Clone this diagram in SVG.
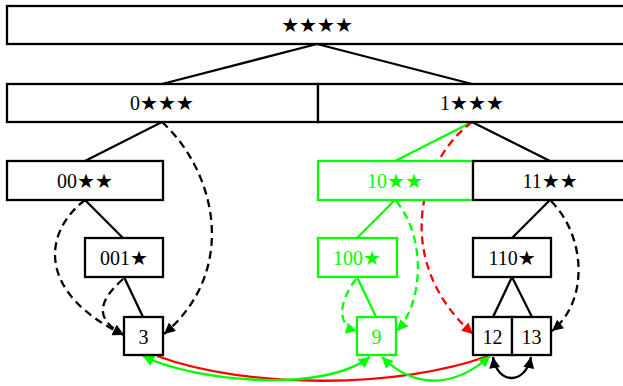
<svg xmlns="http://www.w3.org/2000/svg" width="623" height="386" viewBox="0 0 623 386">
<style>
.box{fill:#fff;stroke:#000;stroke-width:2.3}
.gbox{fill:#fff;stroke:#00ff00;stroke-width:2.3}
.t{font-family:"Liberation Serif","DejaVu Sans",serif;font-size:20px;text-anchor:middle;fill:#000}
.gt{fill:#00ff00}
.e{fill:none;stroke:#000;stroke-width:2.3}
.g{stroke:#00ff00}
.r{stroke:#ff0000}
.d{stroke-dasharray:8 5}
</style>
<defs>
<marker id="ak" viewBox="0 0 10 10" refX="10" refY="5" markerWidth="13" markerHeight="11" markerUnits="userSpaceOnUse" orient="auto-start-reverse"><path d="M0,0 L10,5 L0,10 z" fill="#000"/></marker>
<marker id="ag" viewBox="0 0 10 10" refX="10" refY="5" markerWidth="13" markerHeight="11" markerUnits="userSpaceOnUse" orient="auto-start-reverse"><path d="M0,0 L10,5 L0,10 z" fill="#00ff00"/></marker>
<marker id="ar" viewBox="0 0 10 10" refX="10" refY="5" markerWidth="13" markerHeight="11" markerUnits="userSpaceOnUse" orient="auto-start-reverse"><path d="M0,0 L10,5 L0,10 z" fill="#ff0000"/></marker>
</defs>
<g id="connectors">
<path class="e" d="M317,44 L162,84"/>
<path class="e" d="M317,44 L472,84"/>
<path class="e" d="M162,122 L85,161"/>
<path class="e g" d="M472,122 L395,161"/>
<path class="e" d="M472,122 L550,161"/>
<path class="e" d="M85,200 L123,238"/>
<path class="e g" d="M395,200 L357,238"/>
<path class="e" d="M550,200 L512,238"/>
<path class="e" d="M124,277 L143,317"/>
<path class="e g" d="M357,277 L376,317"/>
<path class="e" d="M512,277 L493,317"/>
<path class="e" d="M512,277 L532,317"/>
<path class="e d" d="M162,122 C215,170 240,270 164,334" marker-end="url(#ak)"/>
<path class="e d" d="M85,200 C40,235 40,295 124,335" marker-end="url(#ak)"/>
<path class="e d" d="M123,279 C100,300 92,318 124,335" marker-end="url(#ak)"/>
<path class="e g d" d="M356,279 C340,300 335,325 357,331" marker-end="url(#ag)"/>
<path class="e g d" d="M396,201 C425,235 425,300 397,331" marker-end="url(#ag)"/>
<path class="e r d" d="M472,122 C415,165 395,265 473,334" marker-end="url(#ar)"/>
<path class="e d" d="M551,201 C585,235 590,300 552,331" marker-end="url(#ak)"/>
<path class="e r" d="M157,356 C250,390 400,388 488,356"/>
<path class="e g" d="M143,356 C190,380 320,395 370,357" marker-start="url(#ag)" marker-end="url(#ag)"/>
<path class="e g" d="M382,357 C410,385 450,392 490,356" marker-start="url(#ag)" marker-end="url(#ag)"/>
<path class="e" d="M493,357 C497,384 525,386 531,357" marker-start="url(#ak)" marker-end="url(#ak)"/>
</g>
<g id="n_root"><rect class="box" x="7" y="6" width="620" height="38"/><text class="t" x="317" y="32">★★★★</text></g>
<g id="n_0"><rect class="box" x="7" y="84" width="311" height="38"/><text class="t" x="162" y="110">0★★★</text></g>
<g id="n_1"><rect class="box" x="318" y="84" width="309" height="38"/><text class="t" x="472" y="110">1★★★</text></g>
<g id="n_00"><rect class="box" x="7" y="161" width="156" height="39"/><text class="t" x="85" y="188">00★★</text></g>
<g id="n_10"><rect class="gbox" x="318" y="161" width="155" height="39"/><text class="t gt" x="395" y="188">10★★</text></g>
<g id="n_11"><rect class="box" x="473" y="161" width="154" height="39"/><text class="t" x="550" y="188">11★★</text></g>
<g id="n_001"><rect class="box" x="85" y="238" width="78" height="39"/><text class="t" x="124" y="265">001★</text></g>
<g id="n_100"><rect class="gbox" x="318" y="238" width="79" height="39"/><text class="t gt" x="357" y="265">100★</text></g>
<g id="n_110"><rect class="box" x="473" y="238" width="78" height="39"/><text class="t" x="512" y="265">110★</text></g>
<g id="n_3"><rect class="box" x="124" y="317" width="39" height="38"/><text class="t" x="143.5" y="344">3</text></g>
<g id="n_9"><rect class="gbox" x="357" y="317" width="39" height="38"/><text class="t gt" x="376.5" y="344">9</text></g>
<g id="n_12"><rect class="box" x="473" y="317" width="39" height="38"/><text class="t" x="492.5" y="344">12</text></g>
<g id="n_13"><rect class="box" x="512" y="317" width="39" height="38"/><text class="t" x="531.5" y="344">13</text></g>
</svg>
